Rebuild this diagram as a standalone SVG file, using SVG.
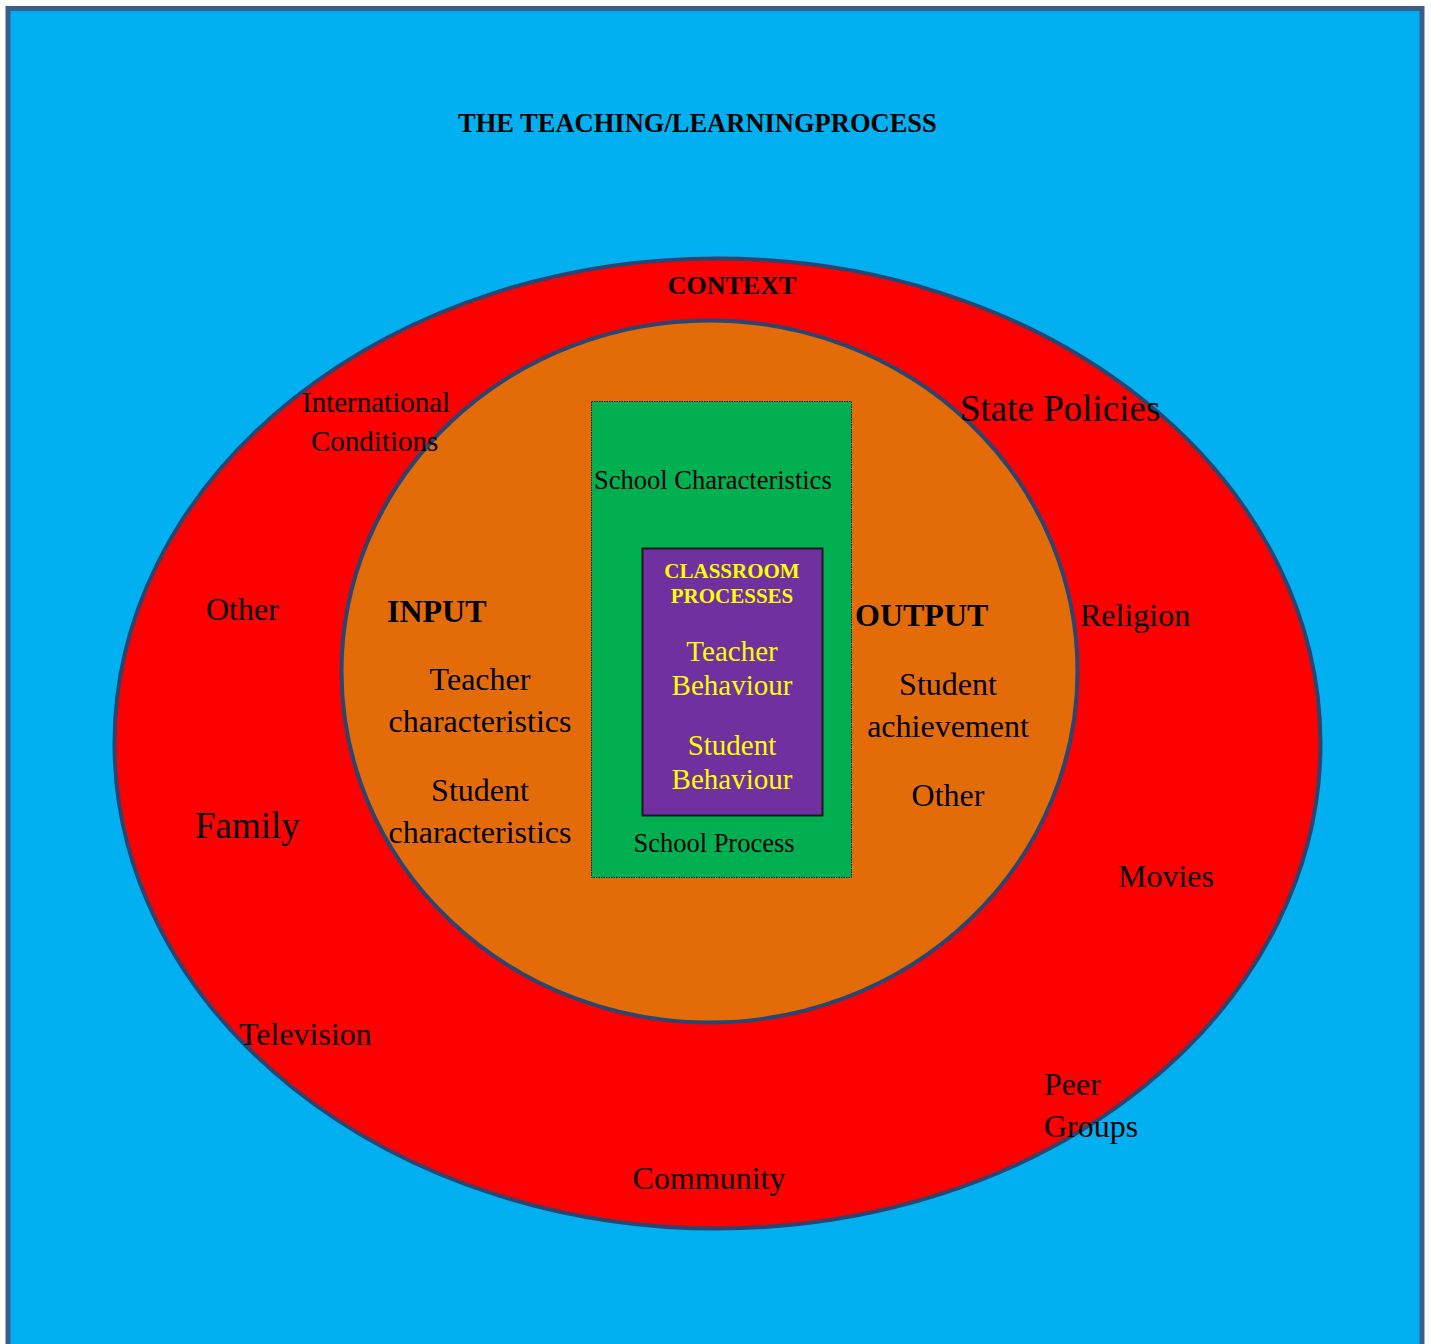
<svg xmlns="http://www.w3.org/2000/svg" width="1431" height="1344" viewBox="0 0 1431 1344">
<style>
text{font-family:"Liberation Serif","Times New Roman",serif;fill:#000}
.b{font-weight:bold}
.y{fill:#ffff00}
.m{text-anchor:middle}
.r{font-size:32px}
.ring{stroke:#2b4570;stroke-width:4}
</style>
<rect x="8" y="8.5" width="1414" height="1345" fill="#00b0f0" stroke="#3a5d8c" stroke-width="5"/>
<g id="context">
<ellipse class="ring" cx="717.5" cy="743.5" rx="603" ry="485" fill="#ff0000"/>
</g>
<g id="inner">
<ellipse class="ring" cx="709.5" cy="671.5" rx="368" ry="351" fill="#e36c09"/>
</g>
<g id="school">
<rect x="591.5" y="401.5" width="260" height="476" fill="#00b050" stroke="#1a1a1a" stroke-width="1" stroke-dasharray="1.5,1"/>
</g>
<g id="classroom">
<rect x="642.5" y="548.5" width="180" height="267" fill="#7030a0" stroke="#1a1a1a" stroke-width="2"/>
</g>
<g id="connectors"></g>
<g id="labels">
<text class="b" x="458" y="132" font-size="26.5">THE TEACHING/LEARNINGPROCESS</text>
<text class="b m" x="732" y="294" font-size="26">CONTEXT</text>
<text x="302" y="412" font-size="29">International</text>
<text x="311" y="451" font-size="29">Conditions</text>
<text x="960" y="421" font-size="37">State Policies</text>
<text class="r" x="206" y="620">Other</text>
<text class="r" x="1080" y="626">Religion</text>
<text x="195" y="838" font-size="37">Family</text>
<text class="r" x="1118" y="887">Movies</text>
<text class="r" x="239" y="1045">Television</text>
<text class="r" x="1044" y="1095">Peer</text>
<text class="r" x="1044" y="1137">Groups</text>
<text class="r m" x="709" y="1189">Community</text>
<text class="b" x="387" y="622" font-size="32">INPUT</text>
<text class="r m" x="480" y="690">Teacher</text>
<text class="r m" x="480" y="732">characteristics</text>
<text class="r m" x="480" y="801">Student</text>
<text class="r m" x="480" y="843">characteristics</text>
<text class="b" x="855" y="626" font-size="32">OUTPUT</text>
<text class="r m" x="948" y="695">Student</text>
<text class="r m" x="948" y="737">achievement</text>
<text class="r m" x="948" y="806">Other</text>
<text x="594" y="489" font-size="26.5">School Characteristics</text>
<text class="m" x="714" y="852" font-size="26.5">School Process</text>
<text class="b y m" x="732" y="578" font-size="21">CLASSROOM</text>
<text class="b y m" x="732" y="603" font-size="21">PROCESSES</text>
<text class="y m" x="732" y="661" font-size="29">Teacher</text>
<text class="y m" x="732" y="695" font-size="29">Behaviour</text>
<text class="y m" x="732" y="755" font-size="29">Student</text>
<text class="y m" x="732" y="789" font-size="29">Behaviour</text>
</g>
</svg>
